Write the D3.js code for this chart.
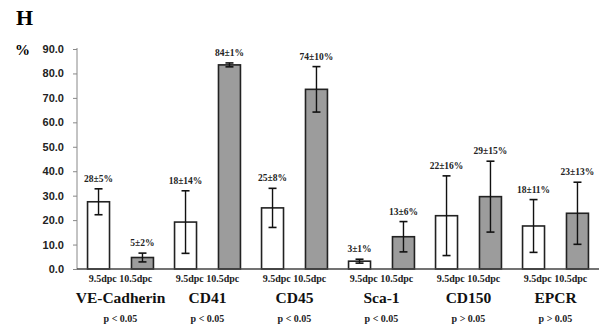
<!DOCTYPE html>
<html><head><meta charset="utf-8">
<script src="https://cdn.jsdelivr.net/npm/d3@7"></script>
<style>body{margin:0;background:#fff}svg{display:block}</style>
</head><body>
<svg id="c" width="599" height="328"></svg>
<script>
const categories = ["VE-Cadherin","CD41","CD45","Sca-1","CD150","EPCR"];
const stages = ["9.5dpc","10.5dpc"];
const pLabels = ["p < 0.05","p < 0.05","p < 0.05","p < 0.05","p > 0.05","p > 0.05"];
const mean95 = [27.5, 19.2, 25.0, 3.2, 21.8, 17.6];
const err95  = [5.3, 12.8, 8.0, 0.8, 16.3, 10.8];
const mean105 = [4.7, 83.5, 73.5, 13.2, 29.6, 22.8];
const err105  = [1.8, 0.8, 9.3, 6.2, 14.5, 12.7];
const labels95 = ["28±5%","18±14%","25±8%","3±1%","22±16%","18±11%"];
const labels105 = ["5±2%","84±1%","74±10%","13±6%","29±15%","23±13%"];
const yTicks = [0,10,20,30,40,50,60,70,80,90];

const svg = d3.select("#c");
const x0 = d3.scaleBand().domain(categories).range([77, 599]);
const x1 = d3.scaleBand().domain(stages).range([0, x0.bandwidth()]).paddingInner(0.5).paddingOuter(0.24);
const y = d3.scaleLinear().domain([0, 90]).range([269, 49]);

const serif = "'Liberation Serif','Times New Roman',serif";

// title and unit
svg.append("text").attr("x", 16).attr("y", 25).attr("font-family", serif).attr("font-weight", "bold").attr("font-size", 22).text("H");
svg.append("text").attr("x", 15).attr("y", 55).attr("font-family", serif).attr("font-weight", "bold").attr("font-size", 15).text("%");

// y axis
const yAxis = d3.axisLeft(y).tickValues(yTicks).tickFormat(d3.format(".1f")).tickSize(4).tickPadding(9);
const gy = svg.append("g").attr("transform", "translate(77,0)").call(yAxis);
gy.select(".domain").attr("stroke", "#888").attr("stroke-width", 1).attr("d", "M0," + y(0) + "V" + (y(90) - 1));
gy.selectAll(".tick line").attr("stroke", "#888");
gy.selectAll(".tick text").attr("font-family", "'Liberation Sans',Arial,sans-serif").attr("font-weight", "bold").attr("font-size", 11).attr("fill", "#222");

const rows = categories.map((c, i) => ({
  c, i,
  bars: [
    {s: stages[0], v: mean95[i], e: err95[i], l: labels95[i]},
    {s: stages[1], v: mean105[i], e: err105[i], l: labels105[i]}
  ]
}));

const g = svg.append("g").selectAll("g").data(rows).join("g")
  .attr("transform", d => "translate(" + x0(d.c) + ",0)");

const b = g.selectAll("g.bar").data(d => d.bars).join("g").attr("class", "bar");
b.append("rect")
  .attr("x", d => x1(d.s)).attr("width", x1.bandwidth())
  .attr("y", d => y(d.v)).attr("height", d => y(0) - y(d.v))
  .attr("fill", d => d.s === stages[0] ? "#fff" : "#9c9c9c")
  .attr("stroke", "#222").attr("stroke-width", 1.6);
const cx = d => x1(d.s) + x1.bandwidth() / 2;
b.append("line").attr("x1", cx).attr("x2", cx).attr("y1", d => y(d.v + d.e)).attr("y2", d => y(Math.max(0, d.v - d.e)))
  .attr("stroke", "#111").attr("stroke-width", 1.4);
b.append("line").attr("x1", d => cx(d) - 4).attr("x2", d => cx(d) + 4).attr("y1", d => y(d.v + d.e)).attr("y2", d => y(d.v + d.e))
  .attr("stroke", "#111").attr("stroke-width", 1.6);
b.append("line").attr("x1", d => cx(d) - 4).attr("x2", d => cx(d) + 4).attr("y1", d => y(Math.max(0, d.v - d.e))).attr("y2", d => y(Math.max(0, d.v - d.e)))
  .attr("stroke", "#111").attr("stroke-width", 1.6);
b.append("text").attr("x", cx).attr("y", d => y(d.v + d.e) - 7).attr("text-anchor", "middle")
  .attr("font-family", serif).attr("font-weight", "bold").attr("font-size", 9.5).attr("fill", "#222").text(d => d.l);

// x axis baseline
svg.append("line").attr("x1", 77).attr("x2", 599).attr("y1", y(0)).attr("y2", y(0)).attr("stroke", "#444").attr("stroke-width", 1.5);

// group labels
g.append("text").attr("x", x0.bandwidth() / 2).attr("y", 282).attr("text-anchor", "middle")
  .attr("font-family", serif).attr("font-weight", "bold").attr("font-size", 10).attr("fill", "#222")
  .text(stages.join(" "));
g.append("text").attr("x", x0.bandwidth() / 2).attr("y", 303).attr("text-anchor", "middle")
  .attr("font-family", serif).attr("font-weight", "bold").attr("font-size", 15.5).attr("fill", "#111")
  .text(d => d.c);
g.append("text").attr("x", x0.bandwidth() / 2).attr("y", 322).attr("text-anchor", "middle")
  .attr("font-family", serif).attr("font-weight", "bold").attr("font-size", 10).attr("fill", "#222")
  .text(d => pLabels[d.i]);
</script>
</body></html>
